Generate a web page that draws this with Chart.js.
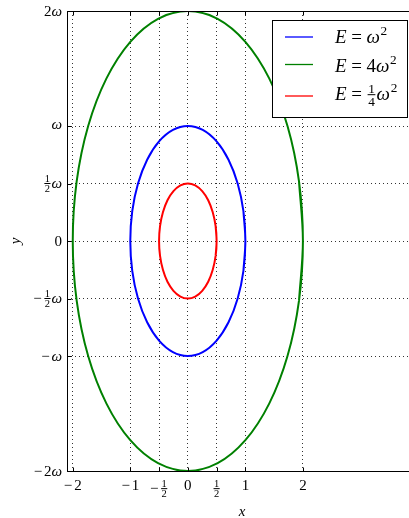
<!DOCTYPE html>
<html>
<head>
<meta charset="utf-8">
<script src="https://cdn.jsdelivr.net/npm/chart.js@4.4.1/dist/chart.umd.min.js"></script>
<style>
  html, body { margin: 0; padding: 0; overflow: hidden; background: #fff; }
  canvas { display: block; }
</style>
</head>
<body>
<canvas id="phaseChart" width="420" height="518"></canvas>
<script>
// tick positions and labels
const xTicks = [-2, -1, -0.5, 0, 0.5, 1, 2];
const xTickLabels = ['−2', '−1', '−½', '0', '½', '1', '2'];
const yTicks = [-2, -1, -0.5, 0, 0.5, 1, 2];
const yTickLabels = ['−2ω', '−ω', '−½ω', '0', '½ω', 'ω', '2ω'];

// series (phase-space orbits)
// first and last points overlap the loop so the curve closes smoothly
const seriesLabels = ['E=ω²', 'E=4ω²', 'E=¼ω²'];
const seriesColors = ['#0000ff', '#008000', '#ff0000'];

const blueX = [0.966, 1, 0.966, 0.866, 0.707, 0.5, 0.259, 0, -0.259, -0.5, -0.707, -0.866, -0.966, -1, -0.966, -0.866, -0.707, -0.5, -0.259, 0, 0.259, 0.5, 0.707, 0.866, 0.966, 1, 0.966];
const blueY = [-0.259, 0, 0.259, 0.5, 0.707, 0.866, 0.966, 1, 0.966, 0.866, 0.707, 0.5, 0.259, 0, -0.259, -0.5, -0.707, -0.866, -0.966, -1, -0.966, -0.866, -0.707, -0.5, -0.259, 0, 0.259];
const greenX = [1.932, 2, 1.932, 1.732, 1.414, 1, 0.518, 0, -0.518, -1, -1.414, -1.732, -1.932, -2, -1.932, -1.732, -1.414, -1, -0.518, 0, 0.518, 1, 1.414, 1.732, 1.932, 2, 1.932];
const greenY = [-0.518, 0, 0.518, 1, 1.414, 1.732, 1.932, 2, 1.932, 1.732, 1.414, 1, 0.518, 0, -0.518, -1, -1.414, -1.732, -1.932, -2, -1.932, -1.732, -1.414, -1, -0.518, 0, 0.518];
const redX = [0.483, 0.5, 0.483, 0.433, 0.354, 0.25, 0.129, 0, -0.129, -0.25, -0.354, -0.433, -0.483, -0.5, -0.483, -0.433, -0.354, -0.25, -0.129, 0, 0.129, 0.25, 0.354, 0.433, 0.483, 0.5, 0.483];
const redY = [-0.129, 0, 0.129, 0.25, 0.354, 0.433, 0.483, 0.5, 0.483, 0.433, 0.354, 0.25, 0.129, 0, -0.129, -0.25, -0.354, -0.433, -0.483, -0.5, -0.483, -0.433, -0.354, -0.25, -0.129, 0, 0.129];

const seriesX = [blueX, greenX, redX];
const seriesY = [blueY, greenY, redY];

function mathFont(size, italic) {
    return (italic ? 'italic ' : '') + size + 'px "Liberation Serif", "DejaVu Serif", serif';
}

// tiny mathtext-like layout: italic letters, stacked fractions, superscript 2
function mathLayout(ctx, str, size) {
    const items = [];
    let x = 0, top = 0, bottom = 0;
    for (const ch of str) {
        if (ch === '½' || ch === '¼') {
            const fs = size * 0.7;
            const num = '1', den = ch === '½' ? '2' : '4';
            ctx.font = mathFont(fs, false);
            const w = Math.max(ctx.measureText(num).width, ctx.measureText(den).width) + size * 0.06;
            const pad = size * 0.06;
            const bar = -size * 0.28;
            const numBase = bar - size * 0.1;
            const denBase = bar + size * 0.1 + fs * 0.68;
            items.push({ kind: 'frac', x: x + pad, w, fs, num, den, bar, numBase, denBase });
            top = Math.min(top, numBase - fs * 0.68);
            bottom = Math.max(bottom, denBase);
            x += w + 2 * pad;
        } else if (ch === '²') {
            const fs = size * 0.7;
            ctx.font = mathFont(fs, false);
            const w = ctx.measureText('2').width;
            const base = -size * 0.4;
            items.push({ kind: 'text', x: x + size * 0.04, t: '2', fs, it: false, base });
            top = Math.min(top, base - fs * 0.68);
            x += w + size * 0.04;
        } else {
            const it = /[A-Za-zω]/.test(ch);
            const pad = ch === '=' ? size * 0.24 : 0;
            const after = ch === '−' ? size * 0.12 : 0;
            ctx.font = mathFont(size, it);
            const w = ctx.measureText(ch).width;
            items.push({ kind: 'text', x: x + pad, t: ch, fs: size, it, base: 0 });
            top = Math.min(top, ch === 'ω' ? -size * 0.46 : -size * 0.68);
            x += w + 2 * pad + after;
        }
    }
    return { items, width: x, top, bottom };
}

function drawMath(ctx, str, size, ax, ay, hAlign, vAlign) {
    const L = mathLayout(ctx, str, size);
    const x0 = hAlign === 'center' ? ax - L.width / 2 : hAlign === 'right' ? ax - L.width : ax;
    const base = vAlign === 'top' ? ay - L.top : vAlign === 'center' ? ay - (L.top + L.bottom) / 2 : ay;
    ctx.save();
    ctx.fillStyle = '#000';
    ctx.textAlign = 'left';
    ctx.textBaseline = 'alphabetic';
    L.items.forEach(it => {
        if (it.kind === 'frac') {
            ctx.font = mathFont(it.fs, false);
            ctx.textAlign = 'center';
            ctx.fillText(it.num, x0 + it.x + it.w / 2, base + it.numBase);
            ctx.fillText(it.den, x0 + it.x + it.w / 2, base + it.denBase);
            ctx.fillRect(x0 + it.x, base + it.bar - 0.5, it.w, 1);
            ctx.textAlign = 'left';
        } else {
            ctx.font = mathFont(it.fs, it.it);
            ctx.fillText(it.t, x0 + it.x, base + it.base);
        }
    });
    ctx.restore();
}

const decorPlugin = {
    id: 'decor',
    afterDraw(chart) {
        const ctx = chart.ctx;
        const area = chart.chartArea;
        const xs = chart.scales.x, ys = chart.scales.y;
        const L = Math.round(area.left) + 0.5, T = Math.round(area.top) + 0.5;
        const B = Math.round(area.bottom) + 0.5, R = Math.round(area.right) + 0.5;

        ctx.save();
        ctx.strokeStyle = '#000';
        ctx.lineWidth = 1;
        ctx.beginPath();
        ctx.moveTo(R, T); ctx.lineTo(L, T); ctx.lineTo(L, B); ctx.lineTo(R, B); ctx.lineTo(R, T);
        ctx.stroke();

        // inward tick marks on all sides
        ctx.beginPath();
        xTicks.forEach(v => {
            const px = Math.round(xs.getPixelForValue(v)) + 0.5;
            ctx.moveTo(px, B); ctx.lineTo(px, B - 4);
            ctx.moveTo(px, T); ctx.lineTo(px, T + 4);
        });
        yTicks.forEach(v => {
            const py = Math.round(ys.getPixelForValue(v)) + 0.5;
            ctx.moveTo(L, py); ctx.lineTo(L + 4, py);
            ctx.moveTo(R, py); ctx.lineTo(R - 4, py);
        });
        ctx.stroke();
        ctx.restore();

        xTicks.forEach((v, i) => {
            drawMath(ctx, xTickLabels[i], 15, xs.getPixelForValue(v), area.bottom + 9, 'center', 'top');
        });
        yTicks.forEach((v, i) => {
            drawMath(ctx, yTickLabels[i], 15, area.left - 5, ys.getPixelForValue(v), 'right', 'center');
        });

        // axis titles
        ctx.save();
        ctx.fillStyle = '#000';
        ctx.font = mathFont(15, true);
        ctx.textAlign = 'center';
        ctx.textBaseline = 'middle';
        ctx.fillText('x', 242, 512);
        ctx.translate(16, 241);
        ctx.rotate(-Math.PI / 2);
        ctx.fillText('y', 0, 0);
        ctx.restore();

        // legend box
        ctx.save();
        ctx.fillStyle = '#fff';
        ctx.fillRect(272.5, 20.5, 135, 97);
        ctx.strokeStyle = '#000';
        ctx.lineWidth = 1;
        ctx.strokeRect(272.5, 20.5, 135, 97);
        const lineY = [37, 64.5, 96];
        const textY = [42.5, 71.5, 100];
        seriesLabels.forEach((lab, i) => {
            ctx.strokeStyle = seriesColors[i];
            ctx.lineWidth = 1.3;
            ctx.beginPath();
            ctx.moveTo(285, lineY[i]);
            ctx.lineTo(313, lineY[i]);
            ctx.stroke();
            drawMath(ctx, lab, 19, 335, textY[i], 'left', 'base');
        });
        ctx.restore();
    }
};

const ctx = document.getElementById('phaseChart').getContext('2d');
new Chart(ctx, {
    type: 'scatter',
    data: {
        datasets: seriesLabels.map((lab, i) => ({
            label: lab,
            data: seriesX[i].map((x, j) => ({ x: x, y: seriesY[i][j] })),
            showLine: true,
            borderColor: seriesColors[i],
            backgroundColor: seriesColors[i],
            borderWidth: 2,
            pointRadius: 0,
            tension: 0.34
        }))
    },
    options: {
        responsive: false,
        animation: false,
        events: [],
        layout: { padding: { left: 67, top: 11, right: 2, bottom: 47 } },
        plugins: {
            legend: { display: false },
            tooltip: { enabled: false }
        },
        scales: {
            x: {
                type: 'linear',
                min: -2.1,
                max: 4,
                afterBuildTicks: scale => { scale.ticks = xTicks.map(v => ({ value: v })); },
                ticks: { display: false },
                grid: { color: 'rgba(0,0,0,0.8)', lineWidth: 1, drawTicks: false },
                border: { display: false, dash: [1, 3] }
            },
            y: {
                type: 'linear',
                min: -2,
                max: 2,
                afterBuildTicks: scale => { scale.ticks = yTicks.map(v => ({ value: v })); },
                ticks: { display: false },
                grid: { color: 'rgba(0,0,0,0.8)', lineWidth: 1, drawTicks: false },
                border: { display: false, dash: [1, 3] }
            }
        }
    },
    plugins: [decorPlugin]
});
</script>
</body>
</html>
